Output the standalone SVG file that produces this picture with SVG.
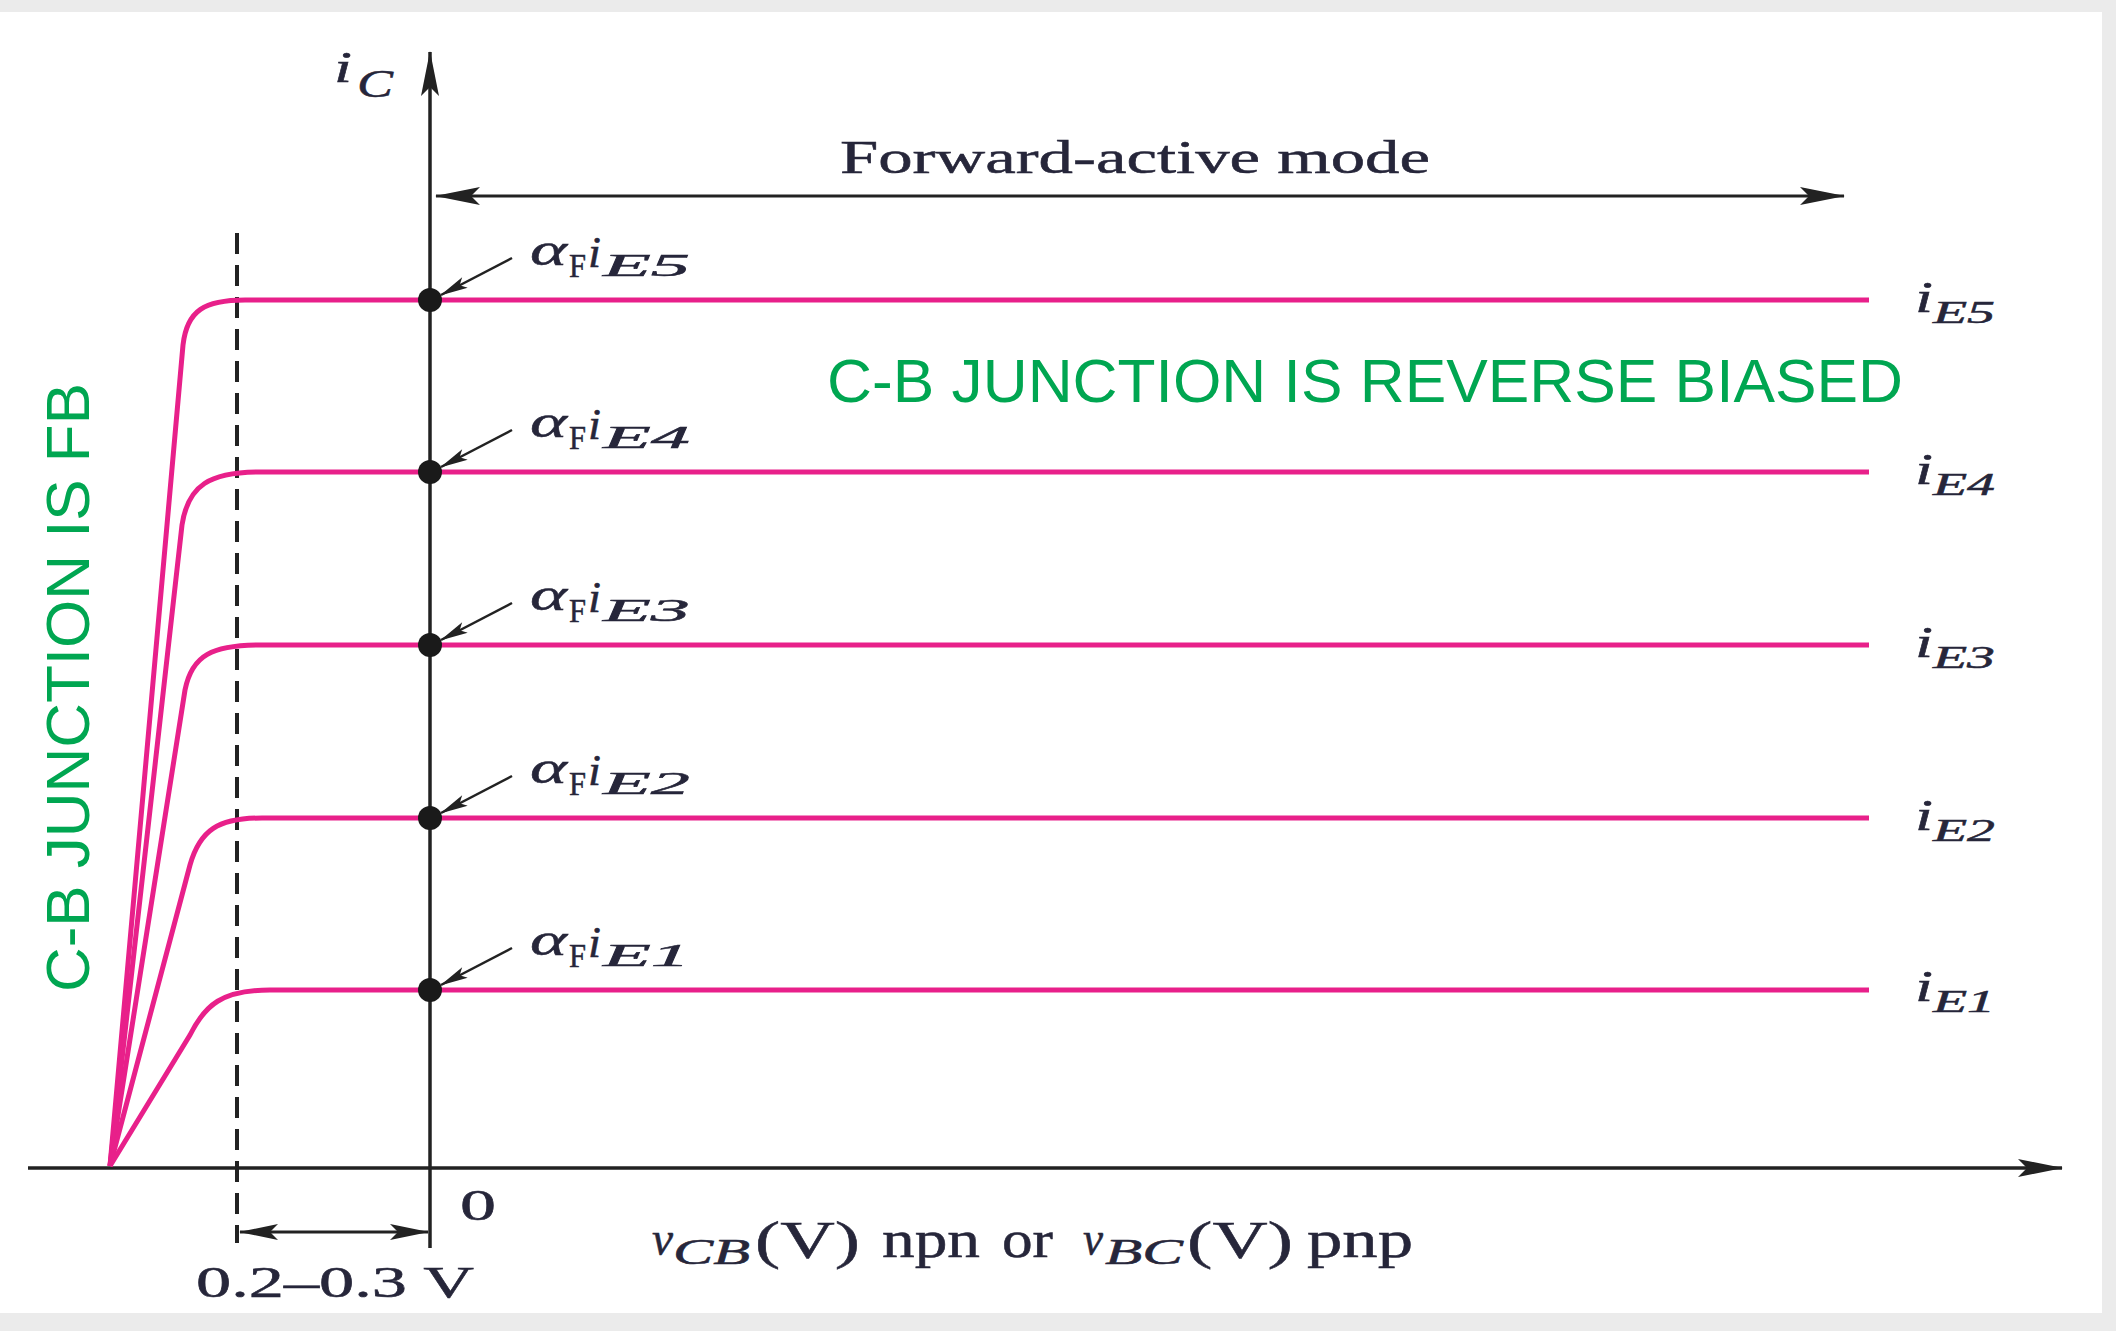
<svg xmlns="http://www.w3.org/2000/svg" width="2116" height="1331" viewBox="0 0 2116 1331">
<style>
.ax{stroke:#222;stroke-width:3.5;fill:none}
.thin{stroke:#222;stroke-width:3;fill:none}
.ptr{stroke:#222;stroke-width:2.5;fill:none;marker-end:url(#sm)}
.curve{stroke:#e8208a;stroke-width:5;fill:none;stroke-linejoin:round}
.dot{fill:#1a1a1a}
.tb{font-family:"Liberation Serif","Times New Roman",serif;fill:#26263a;stroke:#26263a;stroke-width:0.5}
.it{font-style:italic}
.green{font-family:"Liberation Sans",Arial,sans-serif;fill:#00a651;font-size:62px}
</style>
<defs>
<marker id="big" viewBox="-46 -10 48 20" refX="0" refY="0" markerWidth="48" markerHeight="20" markerUnits="userSpaceOnUse" orient="auto-start-reverse"><path d="M1,0 L-44,-9 L-35,0 L-44,9 Z" fill="#222"/></marker>
<marker id="mid" viewBox="-40 -10 42 20" refX="0" refY="0" markerWidth="42" markerHeight="20" markerUnits="userSpaceOnUse" orient="auto-start-reverse"><path d="M1,0 L-38,-8 L-30,0 L-38,8 Z" fill="#222"/></marker>
<marker id="sm" viewBox="-30 -8 32 16" refX="0" refY="0" markerWidth="32" markerHeight="16" markerUnits="userSpaceOnUse" orient="auto"><path d="M1,0 L-27,-6 L-21,0 L-27,6 Z" fill="#222"/></marker>
</defs>
<rect x="0" y="0" width="2116" height="1331" fill="#ebebeb"/>
<rect x="0" y="12" width="2102" height="1301" fill="#ffffff"/>

<g id="connectors">
<line id="y-axis" class="ax" x1="430" y1="1248" x2="430" y2="52" marker-end="url(#big)"/>
<line id="x-axis" class="ax" x1="28" y1="1168" x2="2062" y2="1168" marker-end="url(#big)"/>
<line id="dashed" x1="237" y1="233" x2="237" y2="1243" stroke="#222" stroke-width="4" stroke-dasharray="21,11"/>
<line id="fa-arrow" class="thin" x1="436" y1="196" x2="1844" y2="196" marker-start="url(#big)" marker-end="url(#big)"/>
<line id="dim-arrow" class="thin" x1="240" y1="1232" x2="428" y2="1232" marker-start="url(#mid)" marker-end="url(#mid)"/>
<line class="ptr" x1="512" y1="258" x2="441" y2="295"/>
<line class="ptr" x1="512" y1="430" x2="441" y2="467"/>
<line class="ptr" x1="512" y1="603" x2="441" y2="640"/>
<line class="ptr" x1="512" y1="776" x2="441" y2="813"/>
<line class="ptr" x1="512" y1="948" x2="441" y2="985"/>
</g>

<g id="curve-E5"><path class="curve" d="M110,1166 L183,345 C187,310 205,300 245,300 L1869,300"/><circle class="dot" cx="430" cy="300" r="12"/></g>
<g id="curve-E4"><path class="curve" d="M110,1166 L182,525 C188,485 210,472 260,472 L1869,472"/><circle class="dot" cx="430" cy="472" r="12"/></g>
<g id="curve-E3"><path class="curve" d="M110,1166 L185,690 C192,655 212,645 262,645 L1869,645"/><circle class="dot" cx="430" cy="645" r="12"/></g>
<g id="curve-E2"><path class="curve" d="M110,1166 L190,865 C200,830 218,818 262,818 L1869,818"/><circle class="dot" cx="430" cy="818" r="12"/></g>
<g id="curve-E1"><path class="curve" d="M110,1166 L190,1035 C205,1005 222,990 270,990 L1869,990"/><circle class="dot" cx="430" cy="990" r="12"/></g>

<g id="label-iC"><text class="tb it" x="334" y="82" font-size="44" textLength="18" lengthAdjust="spacingAndGlyphs">i</text><text class="tb it" x="357" y="97" font-size="40" textLength="36" lengthAdjust="spacingAndGlyphs">C</text></g>

<g id="label-fam"><text class="tb" x="840" y="173" font-size="47" textLength="590" lengthAdjust="spacingAndGlyphs">Forward-active mode</text></g>

<g id="label-aF5"><text class="tb it" x="530" y="265" font-size="47" textLength="37" lengthAdjust="spacingAndGlyphs">α</text><text class="tb" x="569" y="277" font-size="34" textLength="17" lengthAdjust="spacingAndGlyphs">F</text><text class="tb it" x="588" y="267" font-size="44" textLength="13" lengthAdjust="spacingAndGlyphs">i</text><text class="tb it" x="603" y="276" font-size="32" textLength="87" lengthAdjust="spacingAndGlyphs">E5</text></g>
<g id="label-aF4"><text class="tb it" x="530" y="437" font-size="47" textLength="37" lengthAdjust="spacingAndGlyphs">α</text><text class="tb" x="569" y="449" font-size="34" textLength="17" lengthAdjust="spacingAndGlyphs">F</text><text class="tb it" x="588" y="439" font-size="44" textLength="13" lengthAdjust="spacingAndGlyphs">i</text><text class="tb it" x="603" y="448" font-size="32" textLength="87" lengthAdjust="spacingAndGlyphs">E4</text></g>
<g id="label-aF3"><text class="tb it" x="530" y="610" font-size="47" textLength="37" lengthAdjust="spacingAndGlyphs">α</text><text class="tb" x="569" y="622" font-size="34" textLength="17" lengthAdjust="spacingAndGlyphs">F</text><text class="tb it" x="588" y="612" font-size="44" textLength="13" lengthAdjust="spacingAndGlyphs">i</text><text class="tb it" x="603" y="621" font-size="32" textLength="87" lengthAdjust="spacingAndGlyphs">E3</text></g>
<g id="label-aF2"><text class="tb it" x="530" y="783" font-size="47" textLength="37" lengthAdjust="spacingAndGlyphs">α</text><text class="tb" x="569" y="795" font-size="34" textLength="17" lengthAdjust="spacingAndGlyphs">F</text><text class="tb it" x="588" y="785" font-size="44" textLength="13" lengthAdjust="spacingAndGlyphs">i</text><text class="tb it" x="603" y="794" font-size="32" textLength="87" lengthAdjust="spacingAndGlyphs">E2</text></g>
<g id="label-aF1"><text class="tb it" x="530" y="955" font-size="47" textLength="37" lengthAdjust="spacingAndGlyphs">α</text><text class="tb" x="569" y="967" font-size="34" textLength="17" lengthAdjust="spacingAndGlyphs">F</text><text class="tb it" x="588" y="957" font-size="44" textLength="13" lengthAdjust="spacingAndGlyphs">i</text><text class="tb it" x="603" y="966" font-size="32" textLength="87" lengthAdjust="spacingAndGlyphs">E1</text></g>

<g id="label-iE5"><text class="tb it" x="1915" y="312" font-size="44" textLength="18" lengthAdjust="spacingAndGlyphs">i</text><text class="tb it" x="1933" y="323" font-size="32" textLength="62" lengthAdjust="spacingAndGlyphs">E5</text></g>
<g id="label-iE4"><text class="tb it" x="1915" y="484" font-size="44" textLength="18" lengthAdjust="spacingAndGlyphs">i</text><text class="tb it" x="1933" y="495" font-size="32" textLength="62" lengthAdjust="spacingAndGlyphs">E4</text></g>
<g id="label-iE3"><text class="tb it" x="1915" y="657" font-size="44" textLength="18" lengthAdjust="spacingAndGlyphs">i</text><text class="tb it" x="1933" y="668" font-size="32" textLength="62" lengthAdjust="spacingAndGlyphs">E3</text></g>
<g id="label-iE2"><text class="tb it" x="1915" y="830" font-size="44" textLength="18" lengthAdjust="spacingAndGlyphs">i</text><text class="tb it" x="1933" y="841" font-size="32" textLength="62" lengthAdjust="spacingAndGlyphs">E2</text></g>
<g id="label-iE1"><text class="tb it" x="1915" y="1001" font-size="44" textLength="18" lengthAdjust="spacingAndGlyphs">i</text><text class="tb it" x="1933" y="1012" font-size="32" textLength="62" lengthAdjust="spacingAndGlyphs">E1</text></g>

<g id="label-zero"><text class="tb" x="460" y="1220" font-size="44" textLength="36" lengthAdjust="spacingAndGlyphs">0</text></g>
<g id="label-range"><text class="tb" x="196" y="1297" font-size="44" textLength="278" lengthAdjust="spacingAndGlyphs">0.2–0.3 V</text></g>

<g id="label-xaxis">
<text class="tb it" x="652" y="1255" font-size="48" textLength="21" lengthAdjust="spacingAndGlyphs">v</text>
<text class="tb it" x="673" y="1264" font-size="35" textLength="77" lengthAdjust="spacingAndGlyphs">CB</text>
<text class="tb" x="755" y="1258" font-size="52" textLength="105" lengthAdjust="spacingAndGlyphs">(V)</text>
<text class="tb" x="882" y="1257" font-size="52" textLength="98" lengthAdjust="spacingAndGlyphs">npn</text>
<text class="tb" x="1002" y="1257" font-size="52" textLength="51" lengthAdjust="spacingAndGlyphs">or</text>
<text class="tb it" x="1083" y="1255" font-size="48" textLength="20" lengthAdjust="spacingAndGlyphs">v</text>
<text class="tb it" x="1105" y="1264" font-size="35" textLength="78" lengthAdjust="spacingAndGlyphs">BC</text>
<text class="tb" x="1187" y="1258" font-size="52" textLength="106" lengthAdjust="spacingAndGlyphs">(V)</text>
<text class="tb" x="1307" y="1257" font-size="52" textLength="106" lengthAdjust="spacingAndGlyphs">pnp</text>
</g>

<g id="note-reverse"><text class="green" x="827" y="402" textLength="1076" lengthAdjust="spacingAndGlyphs">C-B JUNCTION IS REVERSE BIASED</text></g>
<g id="note-fb"><text class="green" transform="translate(89,992) rotate(-90)" x="0" y="0" textLength="609" lengthAdjust="spacingAndGlyphs">C-B JUNCTION IS FB</text></g>
</svg>
